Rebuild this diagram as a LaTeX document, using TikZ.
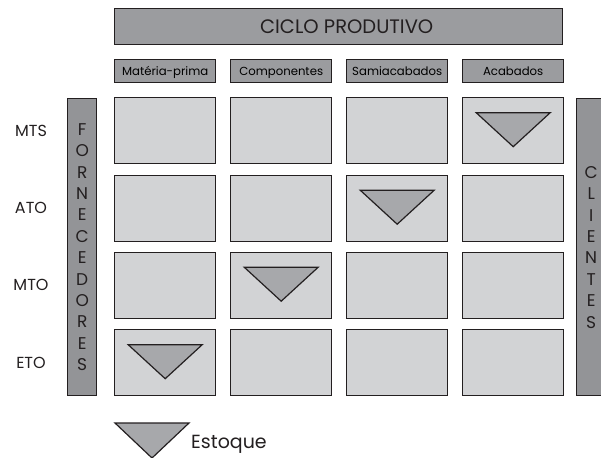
\documentclass[tikz,border=0pt]{standalone}
\usepackage{fontspec}
\setmainfont{Poppins}
\definecolor{hdr}{HTML}{9B9C9F}
\definecolor{cellc}{HTML}{D2D3D5}
\definecolor{barc}{HTML}{939497}
\definecolor{trif}{HTML}{A7A8AB}
\definecolor{ink}{HTML}{231F20}
\begin{document}
\begin{tikzpicture}[x=1pt,y=-1pt,
  box/.style={draw=ink,line width=1.4pt,inner sep=0pt,anchor=north west},
  cellbox/.style={box,fill=cellc,minimum width=101pt,minimum height=66pt},
  colhdr/.style={box,fill=hdr,minimum width=101pt,minimum height=23pt,font=\fontsize{11.7}{13}\selectfont,text height=8.2pt,text depth=0pt},
  rowlbl/.style={font=\fontsize{16}{18}\selectfont,text=ink},
  vbar/.style={box,fill=barc,minimum width=29pt,minimum height=297pt},
  vtext/.style={align=center,font=\fontsize{17}{21.4}\selectfont,text=ink},
  tri/.style={draw=ink,line width=1.2pt,fill=trif,line join=miter}]
\useasboundingbox (0,0) rectangle (601,457);
\node[box,fill=hdr,minimum width=448pt,minimum height=36pt] (title) at (114,8) {};
\node[font=\fontsize{19.5}{21}\selectfont,text=ink,inner sep=0pt,text height=13.7pt,text depth=0pt] (ttext) at ([xshift=8pt]title.center) {CICLO PRODUTIVO};
\node[colhdr] (h1) at (114,59) {Matéria-prima};
\node[colhdr] (h2) at (230,59) {Componentes};
\node[colhdr] (h3) at (346,59) {Samiacabados};
\node[colhdr] (h4) at (462,59) {Acabados};
\foreach \r/\y in {1/97,2/174.5,3/251.5,4/329}{
  \foreach \c/\x in {1/114,2/230,3/346,4/462}{
    \node[cellbox] (c\r\c) at (\x,\y) {};
  }
}
\node[rowlbl] (l1) at ([xshift=-83pt]c11.west) {MTS};
\node[rowlbl] (l2) at ([xshift=-83pt]c21.west) {ATO};
\node[rowlbl] (l3) at ([xshift=-83pt]c31.west) {MTO};
\node[rowlbl] (l4) at ([xshift=-83pt]c41.west) {ETO};
\node[vbar] (forn) at (67,98) {};
\node[vtext] at (forn.center) {F\\O\\R\\N\\E\\C\\E\\D\\O\\R\\E\\S};
\node[vbar] (cli) at (576,98) {};
\node[vtext] at (cli.center) {C\\L\\I\\E\\N\\T\\E\\S};
% triangles
\foreach \n in {c14,c23,c32,c41}{
  \draw[tri] ([shift={(-37,-18)}]\n.center) -- ([shift={(37,-18)}]\n.center) -- ([shift={(0,16)}]\n.center) -- cycle;
}
\coordinate (lt) at (152,423);
\draw[tri] ([shift={(-37,0)}]lt) -- ([shift={(37,0)}]lt) -- ([shift={(0,35)}]lt) -- cycle;
\node[anchor=base west,inner sep=0pt,font=\fontsize{19}{21}\selectfont,text=ink] (est) at (191,448) {Estoque};
\end{tikzpicture}
\end{document}
